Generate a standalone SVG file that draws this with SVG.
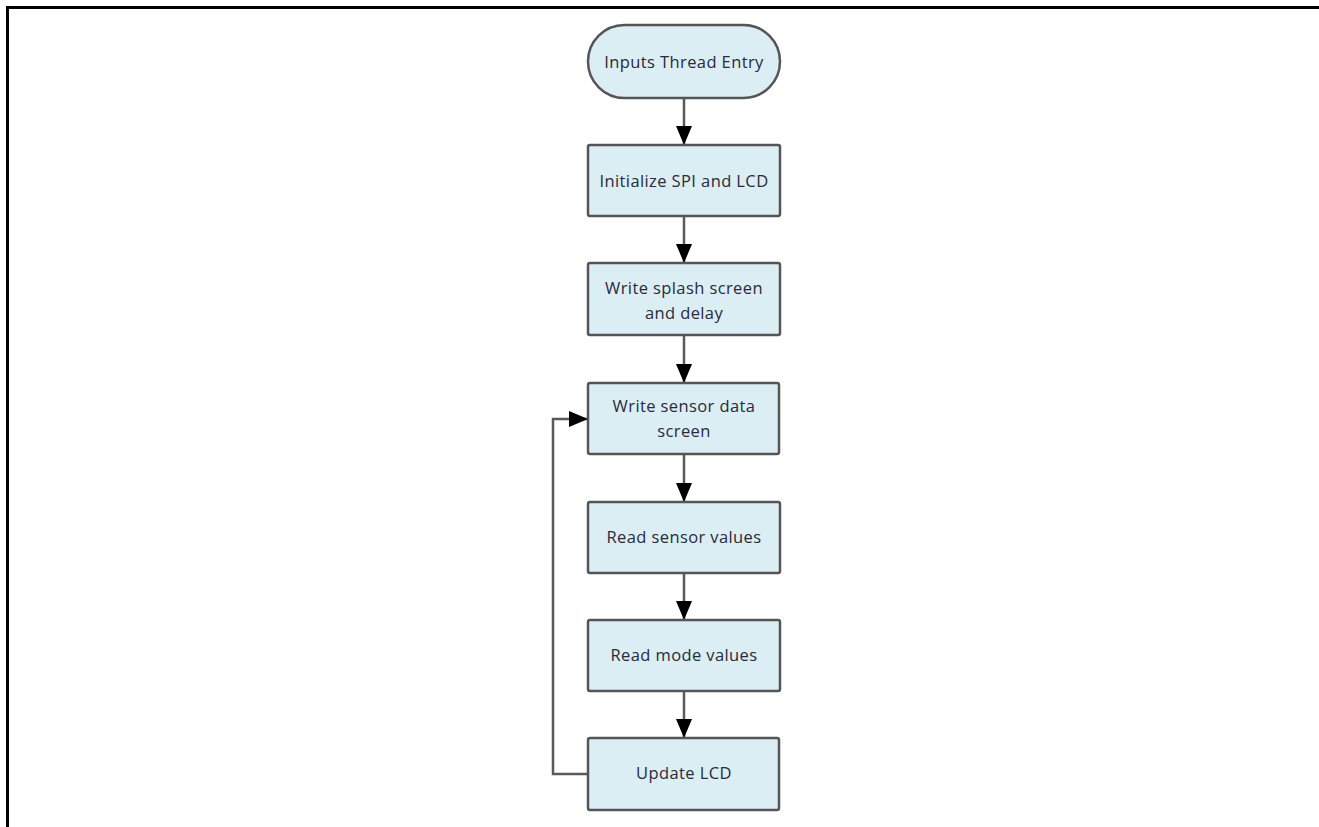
<svg xmlns="http://www.w3.org/2000/svg" width="1319" height="827" viewBox="0 0 1319 827">
<defs>
<style>
.box{fill:#DBEEF4;stroke:#555555;stroke-width:2.5}
.lbl{font-family:"Open Sans","Noto Sans",sans-serif;font-size:16.5px;letter-spacing:0.4px;fill:#2a2a3a;text-anchor:middle}
.conn{fill:none;stroke:#5a5a5a;stroke-width:2.5}
</style>
<marker id="arr" markerWidth="20" markerHeight="16" refX="19" refY="8" orient="auto" markerUnits="userSpaceOnUse">
<path d="M0,0 L19,8 L0,16 Z" fill="#000"/>
</marker>
</defs>
<rect width="1319" height="827" fill="#fff"/>
<path d="M7.5,827 L7.5,7.5 L1319,7.5" fill="none" stroke="#000" stroke-width="3"/>
<g id="connectors">
<line class="conn" x1="684" y1="98" x2="684" y2="145" marker-end="url(#arr)"/>
<line class="conn" x1="684" y1="216" x2="684" y2="263" marker-end="url(#arr)"/>
<line class="conn" x1="684" y1="335" x2="684" y2="383" marker-end="url(#arr)"/>
<line class="conn" x1="684" y1="454" x2="684" y2="502" marker-end="url(#arr)"/>
<line class="conn" x1="684" y1="573" x2="684" y2="620" marker-end="url(#arr)"/>
<line class="conn" x1="684" y1="691" x2="684" y2="738" marker-end="url(#arr)"/>
<path class="conn" d="M588,774 L553,774 L553,419 L588,419" marker-end="url(#arr)"/>
</g>
<g id="start">
<rect class="box" x="588" y="25" width="192" height="73" rx="36.5" ry="36.5"/>
<text class="lbl" x="684" y="68">Inputs Thread Entry</text>
</g>
<g id="init">
<rect class="box" x="588" y="145" width="192" height="71" rx="2"/>
<text class="lbl" x="684" y="187">Initialize SPI and LCD</text>
</g>
<g id="splash">
<rect class="box" x="588" y="263" width="192" height="72" rx="2"/>
<text class="lbl" x="684" y="294">Write splash screen</text>
<text class="lbl" x="684" y="319">and delay</text>
</g>
<g id="sensorscreen">
<rect class="box" x="588" y="383" width="191" height="71" rx="2"/>
<text class="lbl" x="684" y="412">Write sensor data</text>
<text class="lbl" x="684" y="437">screen</text>
</g>
<g id="readsensor">
<rect class="box" x="588" y="502" width="192" height="71" rx="2"/>
<text class="lbl" x="684" y="543">Read sensor values</text>
</g>
<g id="readmode">
<rect class="box" x="588" y="620" width="192" height="71" rx="2"/>
<text class="lbl" x="684" y="661">Read mode values</text>
</g>
<g id="update">
<rect class="box" x="588" y="738" width="191" height="72" rx="2"/>
<text class="lbl" x="684" y="779">Update LCD</text>
</g>
</svg>
